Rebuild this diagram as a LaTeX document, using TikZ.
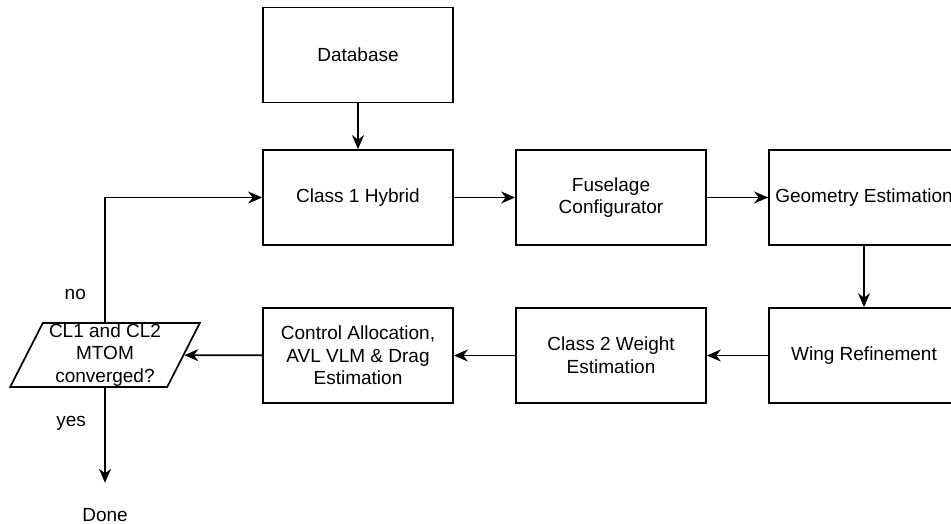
\documentclass[tikz,border=0pt]{standalone}
\usepackage{fontspec}
\setmainfont{Liberation Sans}
\usetikzlibrary{arrows.meta,shapes.geometric}

\begin{document}
\begin{tikzpicture}[x=1pt, y=-1pt, font=\fontsize{19}{22.7}\selectfont,
    box/.style={draw, line width=1.7pt, minimum width=190pt, minimum height=95pt, align=center, inner sep=0pt},
    decision/.style={draw, trapezium, trapezium left angle=65, trapezium right angle=115, trapezium stretches=true,
        minimum width=190pt, minimum height=64pt, align=center, inner sep=0pt, line width=1.7pt},
    flow/.style={line width=1.7pt, -{Stealth[length=14pt, width=12pt, inset=4.5pt]}}]
                \useasboundingbox (0,0) rectangle (951,524);

                \node[box] (db) at (358,55) {Database};
                \node[box] (hyb) at (358,197.5) {Class 1 Hybrid};
                \node[box] (fus) at (611,197.5) {Fuselage\\Configurator};
                \node[box] (geo) at (864,197.5) {Geometry Estimation};
                \node[box] (wing) at (864,355.5) {Wing Refinement};
                \node[box] (cl2) at (611,355.5) {Class 2 Weight\\Estimation};
                \node[box] (ctrl) at (358,355.5) {Control Allocation,\\AVL VLM \& Drag\\Estimation};
                \node[decision] (conv) at (105,355) {CL1 and CL2\\MTOM\\converged?};
                \node (done) at (105,515) {Done};

                \draw[flow] (db) -- (hyb);
                \draw[flow] (hyb) -- (fus);
                \draw[flow] (fus) -- (geo);
                \draw[flow] (geo) -- (wing);
                \draw[flow] (wing) -- (cl2);
                \draw[flow] (cl2) -- (ctrl);
                \draw[flow] (ctrl) -- (conv);
                \draw[flow] (conv.north) |- (hyb.west) node[pos=0.11, left=15pt] {no};
                \draw[flow, shorten >=22pt] (conv.south) -- (done.north) node[pos=0.3, left=15pt] {yes};
            \end{tikzpicture}
\end{document}
